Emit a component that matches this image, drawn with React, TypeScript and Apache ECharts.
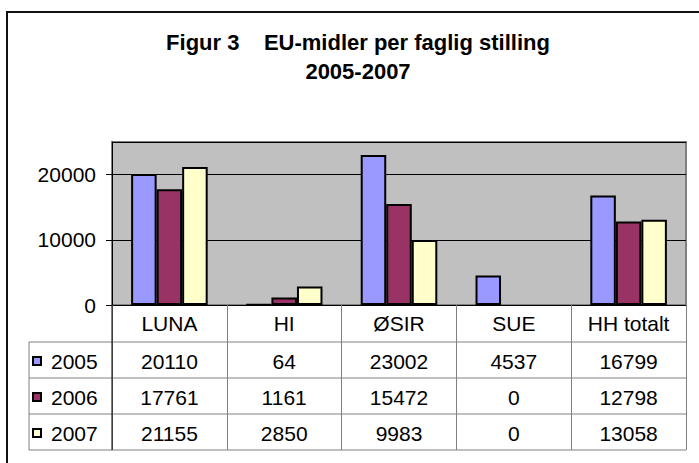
import React, { useEffect, useRef } from "react";
import * as echarts from "echarts";

const categories = ["LUNA", "HI", "ØSIR", "SUE", "HH totalt"];
const years = ["2005", "2006", "2007"];
const values2005 = [20110, 64, 23002, 4537, 16799];
const values2006 = [17761, 1161, 15472, 0, 12798];
const values2007 = [21155, 2850, 9983, 0, 13058];
const seriesValues = [values2005, values2006, values2007];
const yMin = 0;
const yMax = 25000;
const yInterval = 10000;
const titleLine1 = "Figur 3    EU-midler per faglig stilling";
const titleLine2 = "2005-2007";

const colors = ["#9999FF", "#993366", "#FFFFCC"];
const FONT = "'Liberation Sans', Arial, sans-serif";

// layout
const GL = 112;
const GT = 142;
const GR = 686;
const GB = 305;
const HEADER_BOTTOM = 342;
const ROW_H = 36;
const LEG_LEFT = 29;

export default function App() {
  const ref = useRef<HTMLDivElement>(null);
  useEffect(() => {
    if (!ref.current) return;
    const chart = echarts.init(ref.current, null, { renderer: "svg" });
    const colW = (GR - GL) / categories.length;
    const tableBottom = HEADER_BOTTOM + ROW_H * years.length;
    const graphics: any[] = [];
    // outer frame
    graphics.push({
      type: "rect",
      z: 0,
      silent: true,
      shape: { x: 7, y: 12, width: 900, height: 700 },
      style: { fill: "none", stroke: "#111", lineWidth: 2 },
    });
    graphics.push({
      type: "text",
      z: 100,
      x: 358,
      y: 42,
      style: {
        text: titleLine1,
        font: `bold 22px ${FONT}`,
        fill: "#000",
        textAlign: "center",
        textVerticalAlign: "middle",
      },
    });
    graphics.push({
      type: "text",
      z: 100,
      x: 358,
      y: 71,
      style: {
        text: titleLine2,
        font: `bold 22px ${FONT}`,
        fill: "#000",
        textAlign: "center",
        textVerticalAlign: "middle",
      },
    });
    // table horizontal lines
    for (let i = 0; i <= years.length; i++) {
      const y = HEADER_BOTTOM + ROW_H * i;
      graphics.push({
        type: "line",
        z: 100,
        shape: { x1: LEG_LEFT, y1: y, x2: GR, y2: y },
        style: { stroke: "#808080", lineWidth: 1 },
      });
    }
    graphics.push({
      type: "line",
      z: 100,
      shape: { x1: LEG_LEFT, y1: HEADER_BOTTOM, x2: LEG_LEFT, y2: tableBottom },
      style: { stroke: "#808080", lineWidth: 1 },
    });
    graphics.push({
      type: "line",
      z: 101,
      shape: { x1: GL, y1: GB, x2: GL, y2: tableBottom },
      style: { stroke: "#000", lineWidth: 1 },
    });
    years.forEach((yr, i) => {
      const cy = HEADER_BOTTOM + ROW_H * i + ROW_H / 2;
      graphics.push({
        type: "rect",
        z: 100,
        shape: { x: 33, y: cy - 3, width: 8, height: 8 },
        style: { fill: colors[i], stroke: "#000", lineWidth: 2 },
      });
      graphics.push({
        type: "text",
        z: 100,
        x: 51,
        y: cy + 1,
        style: {
          text: yr,
          font: `21px ${FONT}`,
          fill: "#000",
          textAlign: "left",
          textVerticalAlign: "middle",
        },
      });
      seriesValues[i].forEach((v, j) => {
        graphics.push({
          type: "text",
          z: 100,
          x: GL + (j + 0.5) * colW,
          y: cy + 1,
          style: {
            text: String(v),
            font: `21px ${FONT}`,
            fill: "#000",
            textAlign: "center",
            textVerticalAlign: "middle",
          },
        });
      });
    });

    chart.setOption({
      animation: false,
      grid: {
        left: GL,
        top: GT,
        width: GR - GL,
        height: GB - GT,
        show: true,
        backgroundColor: "#C0C0C0",
        borderColor: "#808080",
        borderWidth: 2,
      },
      xAxis: {
        type: "category",
        data: categories,
        boundaryGap: true,
        axisLine: { show: true, lineStyle: { color: "#000", width: 1 } },
        axisTick: {
          show: true,
          length: tableBottom - GB,
          lineStyle: { color: "#808080", width: 1 },
        },
        axisLabel: {
          margin: 18,
          verticalAlign: "middle",
          fontSize: 21,
          fontFamily: FONT,
          color: "#000",
        },
        splitLine: { show: false },
      },
      yAxis: {
        type: "value",
        min: yMin,
        max: yMax,
        interval: yInterval,
        axisLine: { show: true, lineStyle: { color: "#000", width: 1 } },
        axisTick: { show: true, length: 6, lineStyle: { color: "#000" } },
        axisLabel: {
          margin: 16,
          fontSize: 21,
          fontFamily: FONT,
          color: "#000",
          showMaxLabel: false,
          formatter: (v: number) => String(v),
        },
        splitLine: { show: true, lineStyle: { color: "#000", width: 1 } },
      },
      series: seriesValues.map((vals, i) => ({
        type: "bar",
        name: years[i],
        data: vals.map((v) => (v === 0 ? null : v)),
        barGap: "0%",
        barCategoryGap: "33.3%",
        itemStyle: { color: colors[i], borderColor: "#000", borderWidth: 2 },
      })),
      graphic: graphics,
    });
    return () => chart.dispose();
  }, []);
  return (
    <div
      ref={ref}
      style={{ position: "fixed", left: 0, top: 0, width: 699, height: 463, background: "#fff" }}
    />
  );
}
